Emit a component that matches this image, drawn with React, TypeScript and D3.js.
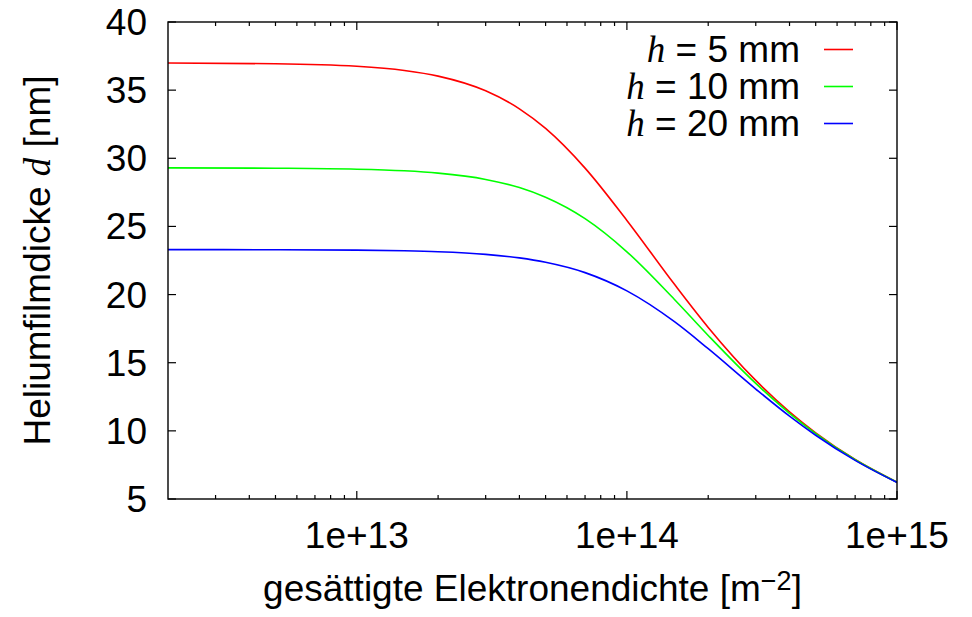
import React, { useRef, useEffect } from 'react';
import * as d3 from 'd3';

// electron density samples [m^-2]
const densities = [
  2e12, 5e12, 1e13, 1.5e13, 2e13, 3e13, 4e13, 5e13, 7e13, 1e14, 1.5e14, 2e14,
  3e14, 4e14, 5e14, 7e14, 1e15,
];

// film thickness d [nm]
const thick5mm = [
  36.99, 36.94, 36.75, 36.44, 36.03, 34.95, 33.63, 32.19, 29.28, 25.44, 20.75,
  17.59, 13.7, 11.4, 9.86, 7.9, 6.24,
];
const thick10mm = [
  29.3, 29.27, 29.2, 29.08, 28.91, 28.45, 27.85, 27.14, 25.57, 23.14, 19.64,
  17.0, 13.48, 11.29, 9.8, 7.88, 6.23,
];
const thick20mm = [
  23.3, 23.29, 23.26, 23.21, 23.14, 22.95, 22.69, 22.37, 21.61, 20.27, 18.01,
  16.03, 13.07, 11.08, 9.68, 7.83, 6.21,
];

const seriesLabels = ['5', '10', '20'];
const seriesColors = ['#ff0000', '#00ff00', '#0000ff'];

const yTicks = [5, 10, 15, 20, 25, 30, 35, 40];
const xMajorTicks = [1e13, 1e14, 1e15];
const xTickLabels = ['1e+13', '1e+14', '1e+15'];

export default function App() {
  const ref = useRef(null);

  useEffect(() => {
    const svg = d3.select(ref.current);
    svg.selectAll('*').remove();

    const width = 972;
    const height = 617;
    const margin = { top: 22, right: 75, bottom: 118, left: 168 };
    const font = '"Liberation Sans", Arial, Helvetica, sans-serif';
    const mathFont = '"Liberation Serif", "Times New Roman", serif';
    const fs = 37;

    const x = d3
      .scaleLog()
      .domain([2e12, 1e15])
      .range([margin.left, width - margin.right]);

    const y = d3
      .scaleLinear()
      .domain([5, 40])
      .range([height - margin.bottom, margin.top]);

    const x0 = margin.left;
    const x1 = width - margin.right;
    const y0 = height - margin.bottom;
    const y1 = margin.top;

    const g = svg.append('g');

    // minor x ticks (2..9 per decade)
    const minor: number[] = [];
    for (let dec = 12; dec <= 14; dec++) {
      for (let m = 2; m <= 9; m++) {
        const v = m * Math.pow(10, dec);
        if (v > 2e12 && v < 1e15) minor.push(v);
      }
    }

    const tickG = g.append('g').attr('stroke', '#000').attr('stroke-width', 1.2);

    minor.forEach(v => {
      tickG.append('line').attr('x1', x(v)).attr('x2', x(v)).attr('y1', y0).attr('y2', y0 - 4);
      tickG.append('line').attr('x1', x(v)).attr('x2', x(v)).attr('y1', y1).attr('y2', y1 + 4);
    });
    xMajorTicks.forEach(v => {
      tickG.append('line').attr('x1', x(v)).attr('x2', x(v)).attr('y1', y0).attr('y2', y0 - 8);
      tickG.append('line').attr('x1', x(v)).attr('x2', x(v)).attr('y1', y1).attr('y2', y1 + 8);
    });
    yTicks.forEach(v => {
      tickG.append('line').attr('x1', x0).attr('x2', x0 + 8).attr('y1', y(v)).attr('y2', y(v));
      tickG.append('line').attr('x1', x1).attr('x2', x1 - 8).attr('y1', y(v)).attr('y2', y(v));
    });

    // tick labels
    g.append('g')
      .selectAll('text')
      .data(yTicks)
      .join('text')
      .attr('x', x0 - 21)
      .attr('y', d => y(d) + 13)
      .attr('text-anchor', 'end')
      .attr('font-family', font)
      .attr('font-size', fs)
      .text(d => d);

    g.append('g')
      .selectAll('text')
      .data(xMajorTicks)
      .join('text')
      .attr('x', d => x(d))
      .attr('y', 548)
      .attr('text-anchor', 'middle')
      .attr('font-family', font)
      .attr('font-size', fs)
      .text((d, i) => xTickLabels[i]);

    // curves
    const seriesData = [thick5mm, thick10mm, thick20mm];

    const lineGen = d3
      .line<[number, number]>()
      .x(d => x(d[0]))
      .y(d => y(d[1]))
      .curve(d3.curveMonotoneX);

    svg
      .append('clipPath')
      .attr('id', 'plotclip')
      .append('rect')
      .attr('x', x0)
      .attr('y', y1)
      .attr('width', x1 - x0)
      .attr('height', y0 - y1);

    seriesData.forEach((vals, si) => {
      g.append('path')
        .datum(vals.map((v, i) => [densities[i], v] as [number, number]))
        .attr('fill', 'none')
        .attr('stroke', seriesColors[si])
        .attr('stroke-width', 1.6)
        .attr('clip-path', 'url(#plotclip)')
        .attr('d', lineGen);
    });

    // frame
    g.append('rect')
      .attr('x', x0)
      .attr('y', y1)
      .attr('width', x1 - x0)
      .attr('height', y0 - y1)
      .attr('fill', 'none')
      .attr('stroke', '#000')
      .attr('stroke-width', 1.4);

    // legend
    seriesLabels.forEach((lab, i) => {
      const by = 62 + i * 37;
      const t = g
        .append('text')
        .attr('x', 800)
        .attr('y', by)
        .attr('text-anchor', 'end')
        .attr('font-family', font)
        .attr('font-size', fs);
      t.append('tspan').attr('font-family', mathFont).attr('font-style', 'italic').text('h');
      t.append('tspan').text(` = ${lab} mm`);
      g.append('line')
        .attr('x1', 824)
        .attr('x2', 853)
        .attr('y1', by - 12.5)
        .attr('y2', by - 12.5)
        .attr('stroke', seriesColors[i])
        .attr('stroke-width', 1.6);
    });

    // axis titles
    const xt = g
      .append('text')
      .attr('x', (x0 + x1) / 2)
      .attr('y', 601)
      .attr('text-anchor', 'middle')
      .attr('font-family', font)
      .attr('font-size', fs);
    xt.append('tspan').text('gesättigte Elektronendichte [m');
    xt.append('tspan').attr('dy', -11).attr('font-size', 27).text('−2');
    xt.append('tspan').attr('dy', 11).text(']');

    const yt = g
      .append('text')
      .attr('transform', `translate(50,${(y0 + y1) / 2}) rotate(-90)`)
      .attr('text-anchor', 'middle')
      .attr('font-family', font)
      .attr('font-size', fs);
    yt.append('tspan').text('Heliumfilmdicke ');
    yt.append('tspan').attr('font-family', mathFont).attr('font-style', 'italic').text('d');
    yt.append('tspan').text(' [nm]');
  }, []);

  return (
    <svg
      ref={ref}
      width={972}
      height={617}
      style={{ position: 'absolute', left: 0, top: 0, background: '#fff' }}
    />
  );
}
